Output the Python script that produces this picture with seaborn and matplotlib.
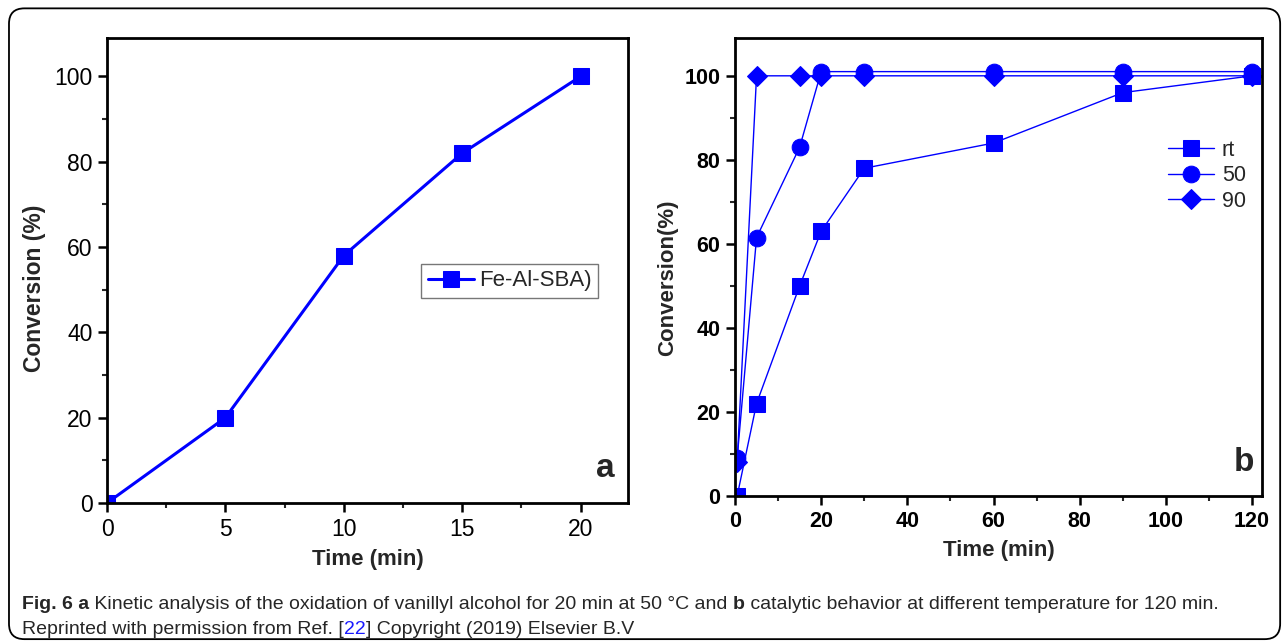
import matplotlib
matplotlib.use("Agg")
import matplotlib.pyplot as plt
import seaborn as sns
import pandas as pd
from matplotlib.patches import FancyBboxPatch
from matplotlib.ticker import MultipleLocator

sns.set_theme(style="white")
plt.rcParams['font.family'] = ['Liberation Sans', 'DejaVu Sans']

# ---- data ----
time_a = [0, 5, 10, 15, 20]
conv_a = [0, 20, 58, 82, 100]
label_a = "Fe-Al-SBA)"

time_b = [0.5, 5, 15, 20, 30, 60, 90, 120]
conv_rt = [0, 22, 50, 63, 78, 84, 96, 100]
conv_50 = [9, 61.5, 83, 101, 101, 101, 101, 101]
conv_90 = [8, 100, 100, 100, 100, 100, 100, 100]
series_b = ["rt", "50", "90"]
markers_b = {"rt": "s", "50": "o", "90": "D"}

blue = "#0000FF"
W, H = 1284, 643

fig = plt.figure(figsize=(12.84, 6.43), dpi=100)
border = FancyBboxPatch((0.007, 0.006), 0.99, 0.981, boxstyle="round,pad=0,rounding_size=0.012",
                        transform=fig.transFigure, fill=False, edgecolor="black", linewidth=1.3,
                        mutation_aspect=2.0)
fig.patches.append(border)

axa = fig.add_axes([107/W, 1-503/H, (628-107)/W, (503-38)/H])
axb = fig.add_axes([735/W, 1-496/H, (1262-735)/W, (496-38)/H])

df_a = pd.DataFrame({"Time": time_a, "Conv": conv_a})
sns.lineplot(data=df_a, x="Time", y="Conv", ax=axa, color=blue, marker="s", markersize=12,
             linewidth=2.2, markeredgecolor=blue, label=label_a)

for name, vals in zip(series_b, [conv_rt, conv_50, conv_90]):
    d = pd.DataFrame({"Time": time_b, "Conv": vals})
    ms = 12 if name != "90" else 10
    sns.lineplot(data=d, x="Time", y="Conv", ax=axb, color=blue, marker=markers_b[name],
                 markersize=ms, linewidth=1.0, markeredgecolor=blue, label=name)

for ax in (axa, axb):
    for s in ax.spines.values():
        s.set_linewidth(2.0)
        s.set_color("black")
    ax.tick_params(which="major", direction="out", length=6.5, width=1.8, bottom=True, left=True,
                   top=False, right=False, colors="black", pad=4)
    ax.tick_params(which="minor", direction="out", length=3.5, width=1.5, bottom=True, left=True,
                   top=False, right=False)
    ax.yaxis.set_major_locator(MultipleLocator(20))
    ax.yaxis.set_minor_locator(MultipleLocator(10))
    ax.set_ylim(0, 109)
    ax.grid(False)

axa.set_xlim(0, 22)
axa.xaxis.set_major_locator(MultipleLocator(5))
axa.xaxis.set_minor_locator(MultipleLocator(2.5))
for lab in axa.get_xticklabels() + axa.get_yticklabels():
    lab.set_fontsize(16.5)
axa.set_xlabel("Time (min)", fontsize=16, fontweight="bold", labelpad=6)
axa.set_ylabel("Conversion (%)", fontsize=16.5, fontweight="bold")
axa.yaxis.set_label_coords(-0.117, 0.461)
leg_a = axa.legend(loc="lower left", bbox_to_anchor=((421-107)/521, (503-298)/465),
                   borderaxespad=0, frameon=True, fancybox=False,
                   edgecolor="#555555", handlelength=2.1, handletextpad=0.2,
                   borderpad=0.3, prop={"size": 16})
leg_a.get_frame().set_linewidth(1.0)
axa.text(0.975, 0.04, "a", transform=axa.transAxes, ha="right", va="bottom",
         fontsize=24, fontweight="bold")

axb.set_xlim(0, 122.3)
axb.xaxis.set_major_locator(MultipleLocator(20))
axb.xaxis.set_minor_locator(MultipleLocator(10))
for lab in axb.get_xticklabels() + axb.get_yticklabels():
    lab.set_fontweight("bold")
    lab.set_fontsize(15.5)
axb.set_xlabel("Time (min)", fontsize=16, fontweight="bold", labelpad=6)
axb.set_ylabel("Conversion(%)", fontsize=16, fontweight="bold")
axb.yaxis.set_label_coords(-0.108, 0.476)
axb.legend(loc="upper left", bbox_to_anchor=((1168-735)/527, (496-140)/458),
           borderaxespad=0, borderpad=0, frameon=False,
           handlelength=2.15, handletextpad=0.35, labelspacing=0.2,
           prop={"size": 15.5})
axb.text(0.985, 0.04, "b", transform=axb.transAxes, ha="right", va="bottom",
         fontsize=24, fontweight="bold")

# ---- caption ----
cap_font = dict(family=["Liberation Sans", "DejaVu Sans"], fontsize=14.0)
fig.canvas.draw()
r = fig.canvas.get_renderer()

def place_after(prev, t):
    fig.canvas.draw()
    bb = prev.get_window_extent(r)
    x, y = prev.get_position()
    t.set_position((bb.x1 / fig.bbox.width, y))

t1 = fig.text(22/W, 1-609/H, "Fig. 6 a", fontweight="bold", va="baseline", **cap_font)
t2 = fig.text(0, 0, " Kinetic analysis of the oxidation of vanillyl alcohol for 20 min at 50 °C and ",
              va="baseline", **cap_font)
place_after(t1, t2)
t3 = fig.text(0, 0, "b", fontweight="bold", va="baseline", **cap_font)
place_after(t2, t3)
t4 = fig.text(0, 0, " catalytic behavior at different temperature for 120 min.", va="baseline", **cap_font)
place_after(t3, t4)
u1 = fig.text(22/W, 1-634/H, "Reprinted with permission from Ref. [", va="baseline", **cap_font)
u2 = fig.text(0, 0, "22", va="baseline", color="#1a1aff", **cap_font)
place_after(u1, u2)
u3 = fig.text(0, 0, "] Copyright (2019) Elsevier B.V", va="baseline", **cap_font)
place_after(u2, u3)

fig.savefig("out.png", dpi=100)
